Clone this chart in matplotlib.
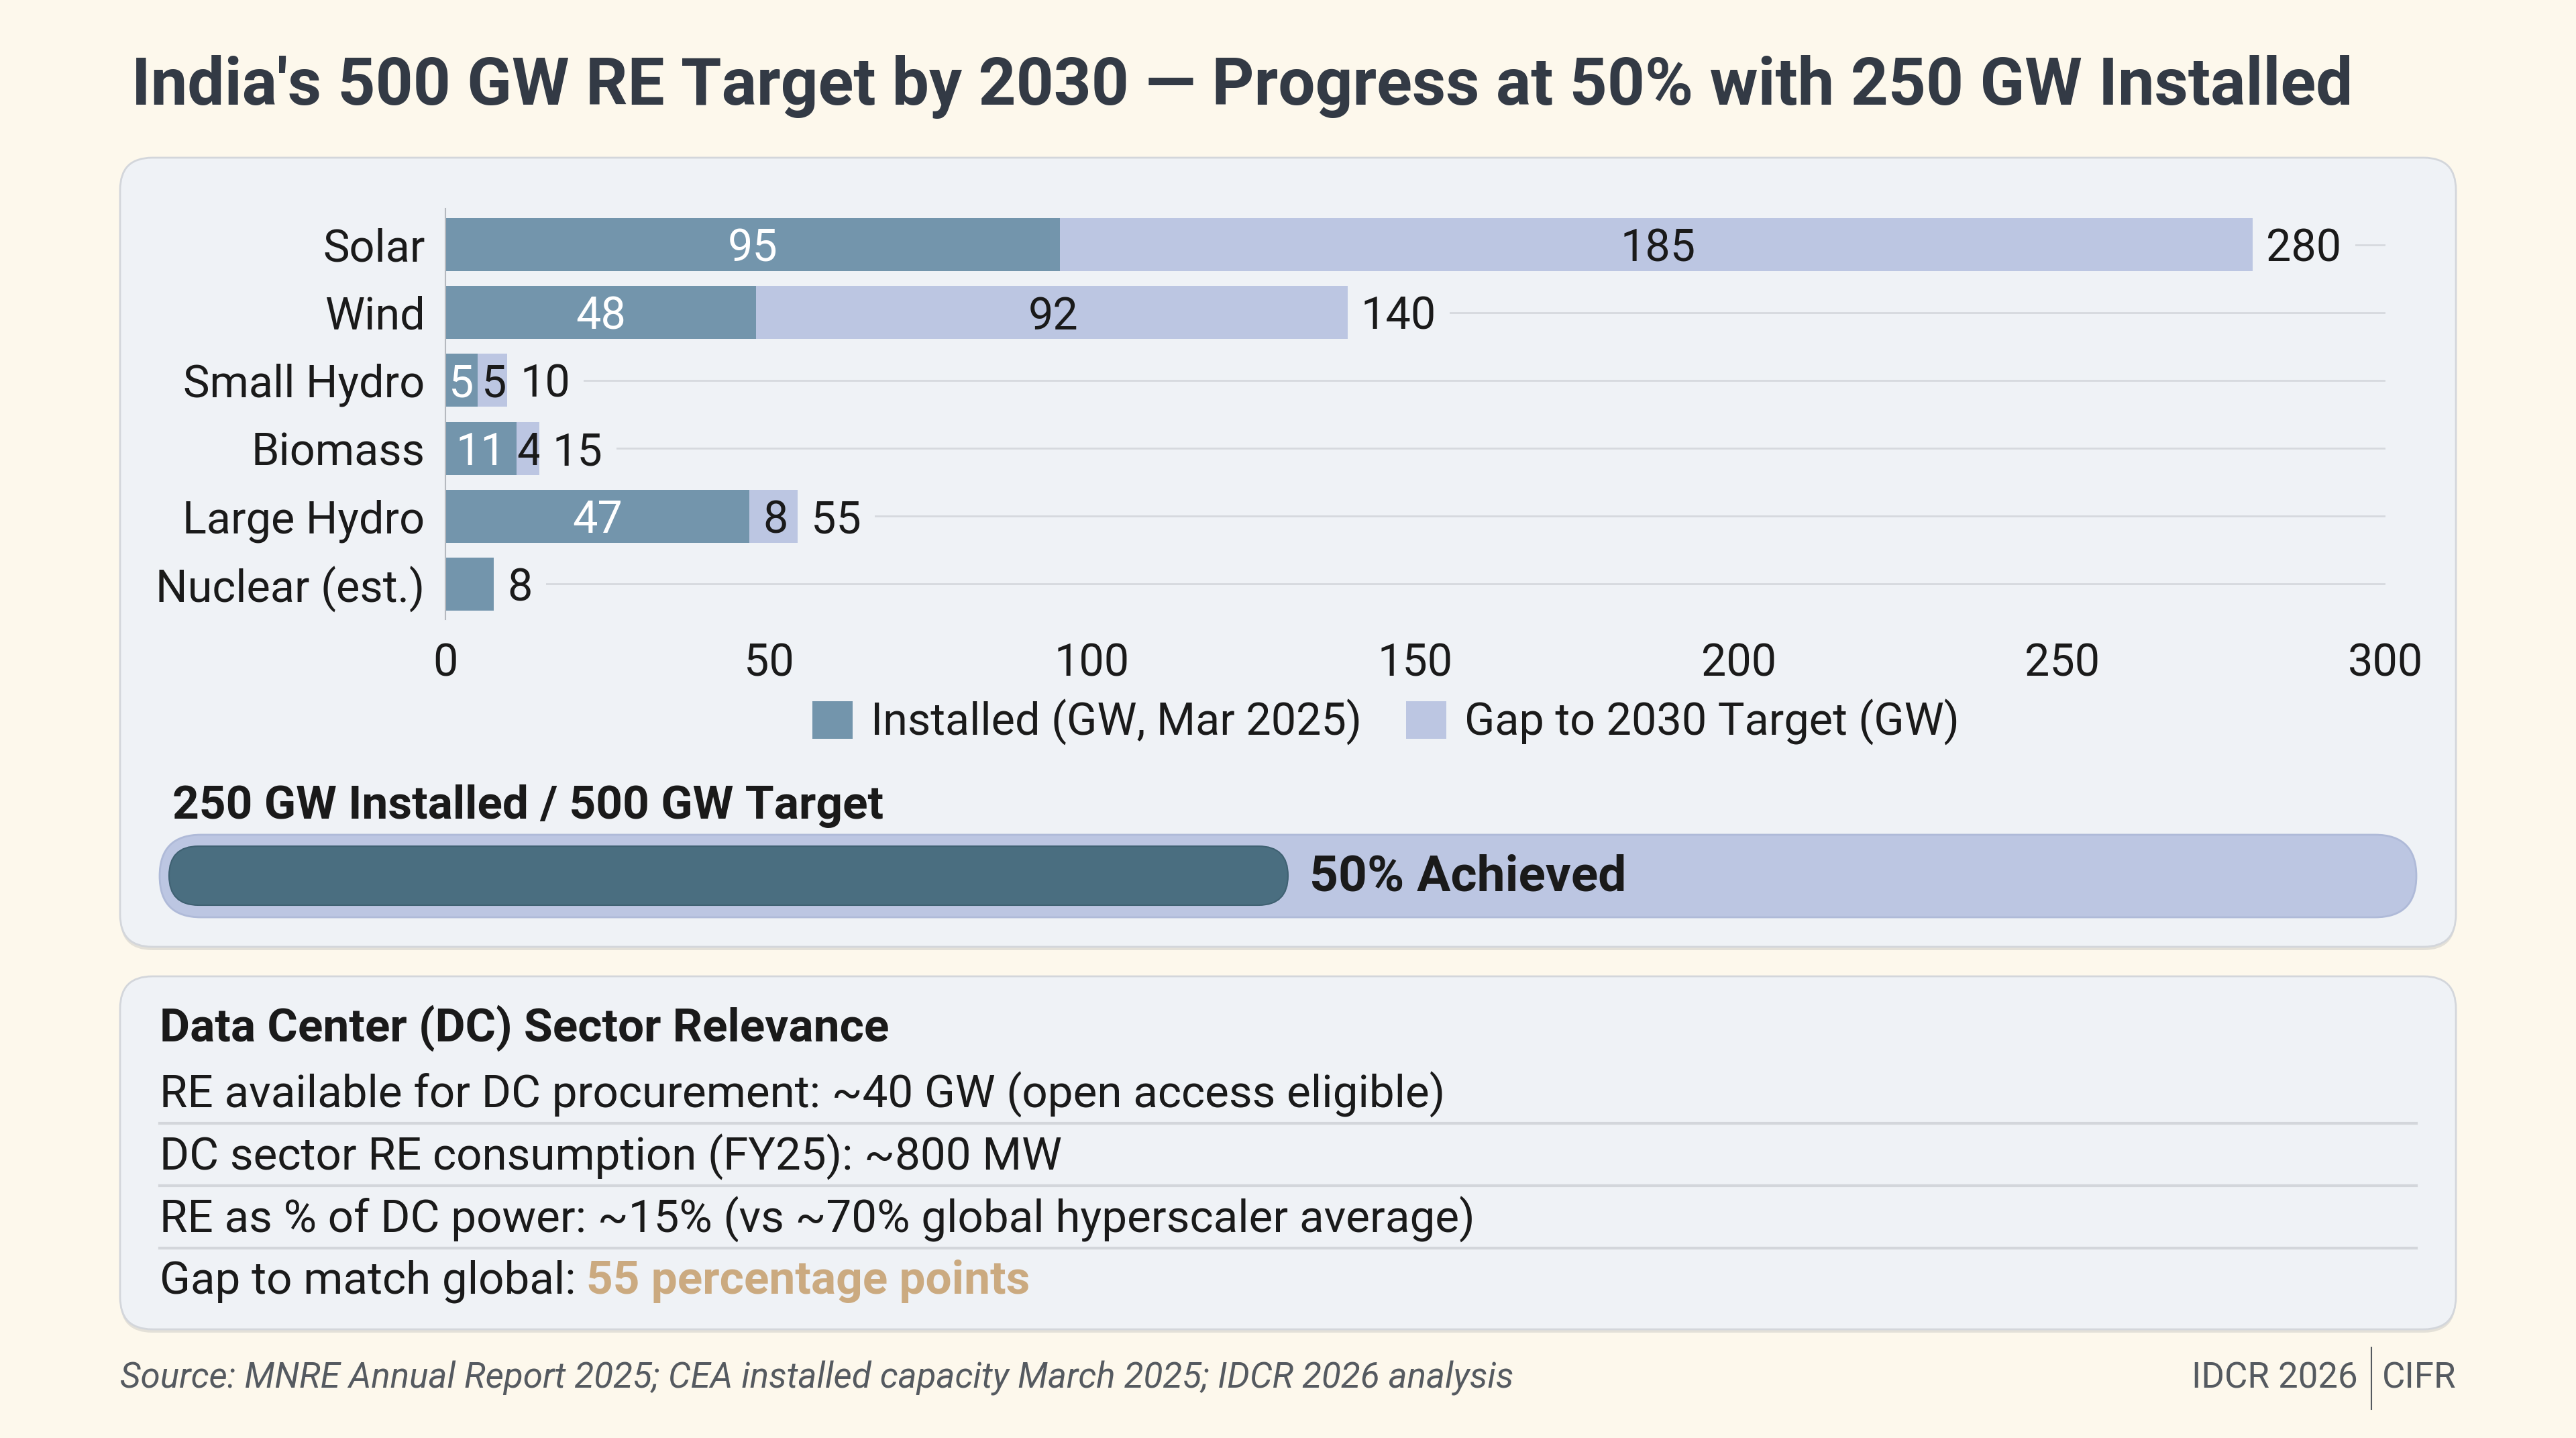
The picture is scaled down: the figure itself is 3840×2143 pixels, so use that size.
import matplotlib.pyplot as plt
from matplotlib.patches import FancyBboxPatch
import numpy as np

plt.rcParams['font.family'] = ['Roboto', 'DejaVu Sans']

# data
categories = ['Solar', 'Wind', 'Small Hydro', 'Biomass', 'Large Hydro', 'Nuclear (est.)']
installed = [95, 48, 5, 11, 47, 8]
gap = [185, 92, 5, 4, 8, 0]
x_ticks = [0, 50, 100, 150, 200, 250, 300]

total_installed = 250
total_target = 500

dc_title = 'Data Center (DC) Sector Relevance'
dc_lines = [
    'RE available for DC procurement: ~40 GW (open access eligible)',
    'DC sector RE consumption (FY25): ~800 MW',
    'RE as % of DC power: ~15% (vs ~70% global hyperscaler average)',
]
dc_last = 'Gap to match global:'
dc_highlight = '55 percentage points'

title = "India's 500 GW RE Target by 2030 \u2014 Progress at 50% with 250 GW Installed"
source = 'Source: MNRE Annual Report 2025; CEA installed capacity March 2025; IDCR 2026 analysis'
brand_left, brand_right = 'IDCR 2026', 'CIFR'

# colours
BG = '#FDF8EC'
PANEL = '#EFF2F6'
PANEL_EDGE = '#D3D6DB'
C_INST = '#7395AC'
C_GAP = '#BCC6E2'
C_FILL = '#4A6E80'
TXT = '#1A1A1A'
GRID = '#D6D9DE'
FOOT = '#555A60'

W, H = 3840, 2143
fig = plt.figure(figsize=(W / 100, H / 100), dpi=100, facecolor=BG)

# full-figure axes in pixel units for panels and free text
bg = fig.add_axes([0, 0, 1, 1], zorder=0)
bg.set_xlim(0, W)
bg.set_ylim(H, 0)
bg.axis('off')


def panel(x0, y0, x1, y1):
    shadow = FancyBboxPatch((x0, y0 + 5), x1 - x0, y1 - y0,
                            boxstyle='round,pad=0,rounding_size=48',
                            fc='#D9D7D0', ec='none', alpha=0.7)
    bg.add_patch(shadow)
    box = FancyBboxPatch((x0, y0), x1 - x0, y1 - y0,
                         boxstyle='round,pad=0,rounding_size=48',
                         fc=PANEL, ec=PANEL_EDGE, lw=2)
    bg.add_patch(box)


panel(179, 235, 3661, 1411)
panel(179, 1455, 3661, 1981)

bg.text(196, 156, title, fontsize=70.5, fontweight='bold', color='#333A45',
        ha='left', va='baseline')

# stacked bar chart
ax = fig.add_axes([664 / W, 1 - 923 / H, (3556 - 664) / W, (923 - 311) / H], zorder=1)
ax.patch.set_alpha(0)
y = np.arange(len(categories))
ax.barh(y, installed, height=0.78, color=C_INST, label='Installed (GW, Mar 2025)', zorder=2)
ax.barh(y, gap, left=installed, height=0.78, color=C_GAP, label='Gap to 2030 Target (GW)', zorder=2)
ax.set_xlim(0, 300)
ax.set_ylim(5.52, -0.53)
ax.set_yticks(y, categories)
ax.set_xticks(x_ticks)
ax.tick_params(axis='both', length=0, labelsize=48, colors=TXT)
ax.tick_params(axis='y', pad=22)
ax.tick_params(axis='x', pad=25)
ax.grid(axis='y', color=GRID, lw=2)
ax.grid(axis='x', visible=False)
ax.set_axisbelow(True)
for s in ['top', 'right', 'bottom']:
    ax.spines[s].set_visible(False)
ax.spines['left'].set_color('#B5B9BF')
ax.spines['left'].set_linewidth(1.5)

for i in range(len(categories)):
    total = installed[i] + gap[i]
    if gap[i] > 0:
        ax.text(installed[i] / 2, i, str(installed[i]), color='white', fontsize=48,
                ha='center', va='center_baseline', zorder=3)
        ax.text(installed[i] + gap[i] / 2, i, str(gap[i]), color=TXT, fontsize=48,
                ha='center', va='center_baseline', zorder=3)
    ax.annotate(str(total), xy=(total, i), xytext=(11, 0), textcoords='offset points',
                color=TXT, fontsize=48, ha='left', va='center_baseline', zorder=3,
                bbox=dict(boxstyle='square,pad=0.3', fc=PANEL, ec='none'))

fig.legend(loc='center', bbox_to_anchor=(0.538, 0.4975), ncol=2, frameon=False,
           fontsize=48, handlelength=0.9, handleheight=0.9, handletextpad=0.4,
           columnspacing=1.0, labelcolor=TXT)

# overall progress bar
bg.text(257, 1202, f'{total_installed} GW Installed / {total_target} GW Target',
        fontsize=50, fontweight='bold', color=TXT, ha='left', va='center')
tx0, tx1, ty0, ty1 = 238, 3602, 1244, 1367
bg.add_patch(FancyBboxPatch((tx0, ty0), tx1 - tx0, ty1 - ty0,
                            boxstyle=f'round,pad=0,rounding_size={(ty1 - ty0) / 2}',
                            fc=C_GAP, ec='#AFBAD8', lw=2))
fill_end = tx0 + (tx1 - tx0) * total_installed / total_target
fx0, fy0, fy1 = 252, 1261, 1349
bg.add_patch(FancyBboxPatch((fx0, fy0), fill_end - fx0, fy1 - fy0,
                            boxstyle=f'round,pad=0,rounding_size={(fy1 - fy0) / 2}',
                            fc=C_FILL, ec='#3F6172', lw=1.5))
bg.text(fill_end + 32, 1308, f'{round(100 * total_installed / total_target)}% Achieved',
        fontsize=54, fontweight='bold', color=TXT, ha='left', va='center')

# data-center relevance panel
bg.text(238, 1532, dc_title, fontsize=50, fontweight='bold', color=TXT, ha='left', va='center')
line_y = [1631, 1724, 1817]
for ly, line in zip(line_y, dc_lines):
    bg.text(238, ly, line, fontsize=48.5, color=TXT, ha='left', va='center')
    bg.plot([238, 3602], [ly + 43, ly + 43], color='#D3D6DB', lw=3)
t_last = bg.text(238, 1910, dc_last, fontsize=48.5, color=TXT, ha='left', va='center')
bg.annotate(dc_highlight, xy=(1, 0.5), xycoords=t_last, xytext=(11, 0),
            textcoords='offset points', fontsize=50, fontweight='bold',
            color='#CBAA80', ha='left', va='center')

# footer
bg.text(179, 2054, source, fontsize=38.2, style='italic', color=FOOT, ha='left', va='center')
t_r = bg.text(3661, 2054, brand_right, fontsize=38, color=FOOT, ha='right', va='center')
bg.annotate(brand_left, xy=(0, 0.5), xycoords=t_r, xytext=(-26, 0),
            textcoords='offset points', fontsize=38, color=FOOT, ha='right', va='center')
bg.plot([3535, 3535], [2008, 2100], color=FOOT, lw=1.5)

fig.savefig('out.png', dpi=100, facecolor=BG)
